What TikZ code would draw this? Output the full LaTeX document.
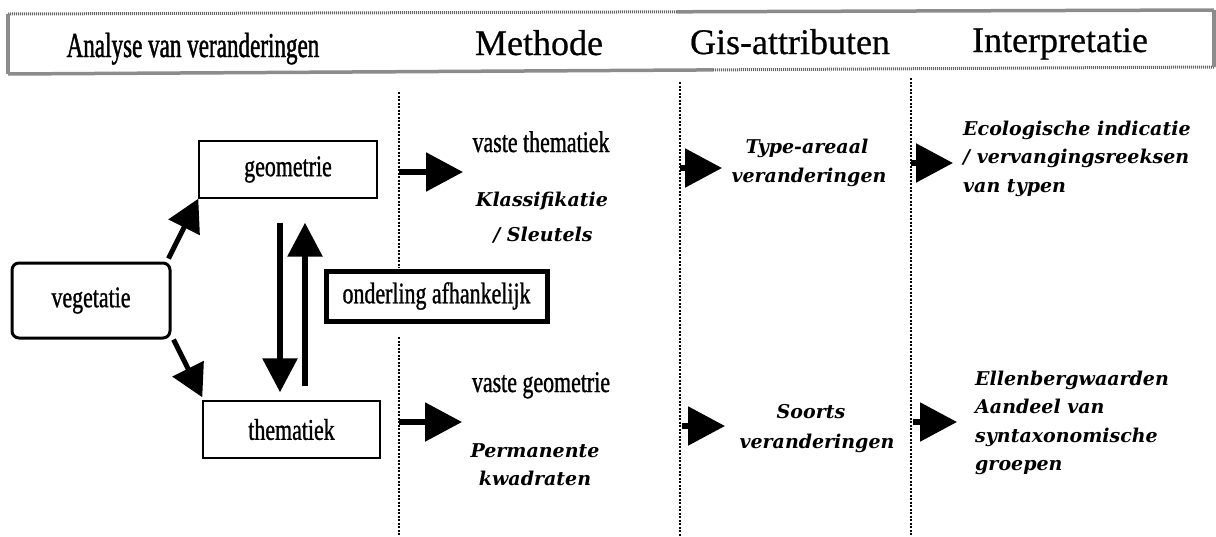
\documentclass[tikz,border=0pt]{standalone}
\usepackage{fontspec}
\setmainfont{Liberation Serif}
\newfontfamily\hdrf[FakeBold=0.6]{Liberation Serif}
\newfontfamily\condf[FakeStretch=0.73,FakeBold=1]{Liberation Serif}
\newfontfamily\headcond[FakeStretch=0.66,FakeBold=1.2]{Liberation Serif}
\newfontfamily\itf{DejaVu Serif}
\usetikzlibrary{arrows.meta,calc}
\tikzset{
  hdr/.style={font=\hdrf\fontsize{36}{40}\selectfont, anchor=base, inner sep=0pt},
  ctext/.style={font=\condf\fontsize{30}{34}\selectfont, anchor=base, inner sep=0pt},
  itext/.style={font=\itf\bfseries\itshape\fontsize{19}{22}\selectfont, anchor=base, inner sep=0pt},
  itextl/.style={itext, anchor=base west},
  plainbox/.style={draw, line width=1.4pt, inner sep=0pt, font=\condf\fontsize{30}{34}\selectfont},
  vegbox/.style={draw, line width=3pt, rounded corners=7pt, inner sep=0pt, font=\condf\fontsize{30}{34}\selectfont},
  depbox/.style={draw, fill=white, line width=5pt, inner sep=0pt, font=\condf\fontsize{30}{34}\selectfont},
  diagarrow/.style={line width=5pt, -{Triangle[length=32pt,width=34pt]}},
  vertarrow/.style={line width=6pt, -{Triangle[length=34pt,width=34pt]}},
  colarrow/.style={line width=5.5pt, -{Triangle[length=37pt,width=38pt]}},
  divider/.style={line width=1.3pt, dash pattern=on 2pt off 1.5pt},
  hsolid/.style={line width=3.5pt, draw=black!45},
  hcheck/.style={line width=3pt, draw=black!60, dash pattern=on 1pt off 1pt},
}
\begin{document}
\begin{tikzpicture}[x=1pt,y=-1pt]
\useasboundingbox (0,0) rectangle (1216,536);

% header frame
\coordinate (hTL) at (8,14);
\coordinate (hTM) at (677,11.8);
\coordinate (hTR) at (1214,10);
\coordinate (hBL) at (8,74);
\coordinate (hBM) at (713,69.9);
\coordinate (hBR) at (1214,67);
\draw[hcheck] (hTL) -- (hTM);
\draw[hsolid] (hTM) -- (hTR);
\draw[hsolid] (hBL) -- (hBM);
\draw[hcheck] (hBM) -- (hBR);
\draw[hsolid] (hTL) -- (hBL);
\draw[hsolid] (hTR) -- (hBR);

\node[hdr, font=\headcond\fontsize{35}{40}\selectfont] (hA) at (193,57) {Analyse van veranderingen};
\node[hdr] (hM) at (539,55) {Methode};
\node[hdr] (hG) at (790,54) {Gis-attributen};
\node[hdr] (hI) at (1060,52) {Interpretatie};

% dividers
\draw[divider] (399,92) -- (399,268);
\draw[divider] (399,337) -- (399,536);
\draw[divider] (680,82) -- (680,536);
\draw[divider] (911,78) -- (911,536);

% left part
\node[vegbox, minimum width=158pt, minimum height=75pt] (veg) at (91,300.5) {vegetatie};
\node[plainbox, minimum width=178pt, minimum height=57pt] (geo) at (288,169.5) {geometrie};
\node[plainbox, minimum width=177pt, minimum height=57pt] (them) at (291.5,429.5) {thematiek};
\node[depbox, minimum width=221pt, minimum height=50pt] (dep) at (436.5,296) {onderling afhankelijk};

\draw[diagarrow] ([xshift=-3pt,yshift=3pt]veg.north east) -- (geo.south west);
\draw[diagarrow] ([xshift=2pt]veg.south east) -- ([yshift=3pt]them.north west);
\draw[vertarrow] ([xshift=-8pt,yshift=-24pt]geo.south) -- ([xshift=-11.5pt,yshift=8pt]them.north);
\draw[vertarrow] ([xshift=13.5pt,yshift=14pt]them.north) -- ([xshift=17pt,yshift=-24pt]geo.south);

% column arrows
\coordinate (m1s) at (399,172); \coordinate (m1e) at (463,172);
\coordinate (m2s) at (399,422); \coordinate (m2e) at (462,422);
\coordinate (g1s) at (680,168); \coordinate (g1e) at (722,168);
\coordinate (g2s) at (682,426); \coordinate (g2e) at (725,426);
\coordinate (i1s) at (911,163); \coordinate (i1e) at (953,163);
\coordinate (i2s) at (913,422); \coordinate (i2e) at (957,422);
\draw[colarrow] (m1s) -- (m1e);
\draw[colarrow] (m2s) -- (m2e);
\draw[colarrow] (g1s) -- (g1e);
\draw[colarrow] (g2s) -- (g2e);
\draw[colarrow] (i1s) -- (i1e);
\draw[colarrow] (i2s) -- (i2e);

% Methode column
\node[ctext] (vt) at (541,152) {vaste thematiek};
\node[itext] (kl1) at (542,206) {Klassifikatie};
\node[itext] (kl2) at (543,241) {/ Sleutels};
\node[ctext] (vg) at (541,392) {vaste geometrie};
\node[itext] (pk1) at (535,457) {Permanente};
\node[itext] (pk2) at (535,485) {kwadraten};

% Gis column
\node[itext] (ta1) at (807,153) {Type-areaal};
\node[itext] (ta2) at (809,182) {veranderingen};
\node[itext] (so1) at (811,418) {Soorts};
\node[itext] (so2) at (817,448) {veranderingen};

% Interpretatie column
\node[itextl] (ec1) at (963,135) {Ecologische indicatie};
\node[itextl] (ec2) at (963,163) {/ vervangingsreeksen};
\node[itextl] (ec3) at (963,192) {van typen};
\node[itextl] (el1) at (975,385) {Ellenbergwaarden};
\node[itextl] (el2) at (975,413) {Aandeel van};
\node[itextl] (el3) at (975,442) {syntaxonomische};
\node[itextl] (el4) at (975,470) {groepen};
\end{tikzpicture}
\end{document}
